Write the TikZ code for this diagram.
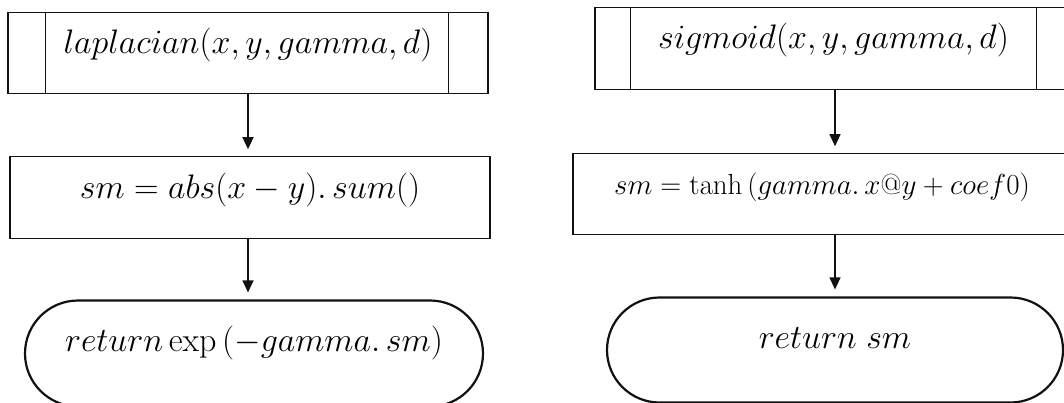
\RequirePackage{fix-cm}
\documentclass[tikz,border=0pt]{standalone}
\usepackage{xcolor}
\definecolor{inkblack}{HTML}{111111}
\usepackage{tikz}
\usetikzlibrary{positioning, shapes.misc, arrows.meta}

\tikzset{
  procbox/.style={draw=inkblack, line width=1.2pt, inner sep=0pt},
  sidebar/.style={line width=1.2pt, color=inkblack},
  termbox/.style={draw=inkblack, line width=2.2pt, rounded rectangle, rounded rectangle arc length=180, inner sep=0pt, text height=20pt, text depth=24pt},
  flow/.style={-{Triangle[width=11pt,length=12pt]}, line width=1.2pt, color=inkblack, shorten >=7pt},
}

\begin{document}
\begin{tikzpicture}[x=1pt, y=-1pt, font=\fontsize{34}{40}\selectfont]
  \useasboundingbox (0,0) rectangle (1064,402);
  \clip (0,0) rectangle (1064,402);
  % laplacian column
  \node[procbox, anchor=north, minimum width=480pt, text height=41pt, text depth=40pt] (lapfunc) at (248,12) {$laplacian(x,y,gamma,d)$};
  \draw[sidebar] ([xshift=38pt]lapfunc.north west) -- ([xshift=38pt]lapfunc.south west);
  \draw[sidebar] ([xshift=-40pt]lapfunc.north east) -- ([xshift=-40pt]lapfunc.south east);
  \node[procbox, below=62pt of lapfunc, xshift=2pt, minimum width=480pt, text height=42pt, text depth=40pt] (lapsum) {$sm=abs(x-y).\,sum()$};
  \node[termbox, below=60pt of lapsum, xshift=4pt, minimum width=458pt, minimum height=106pt] (lapret) {$return\exp\,(-gamma.\,sm)$};
  \draw[flow] (lapfunc.south) -- (lapfunc.south |- lapsum.north);
  \draw[flow] (lapfunc.south |- lapsum.south) -- (lapfunc.south |- lapret.north);
  % sigmoid column
  \node[procbox, anchor=north, minimum width=477pt, text height=41pt, text depth=41pt] (sigfunc) at (833.5,7) {$sigmoid(x,y,gamma,d)$};
  \draw[sidebar] ([xshift=36pt]sigfunc.north west) -- ([xshift=36pt]sigfunc.south west);
  \draw[sidebar] ([xshift=-36pt]sigfunc.north east) -- ([xshift=-36pt]sigfunc.south east);
  \node[procbox, below=63pt of sigfunc, xshift=-11.5pt, minimum width=498pt, text height=41pt, text depth=40pt, font=\fontsize{29}{35}\selectfont] (sigsum) {$sm=\tanh\,(gamma.\,x@y+coef0)$};
  \node[termbox, below=61pt of sigsum, xshift=13pt, minimum width=456pt, minimum height=105pt] (sigret) {$return\;sm$};
  \draw[flow] (sigret.north |- sigfunc.south) -- (sigret.north |- sigsum.north);
  \draw[flow] (sigret.north |- sigsum.south) -- (sigret.north);
\end{tikzpicture}
\end{document}
